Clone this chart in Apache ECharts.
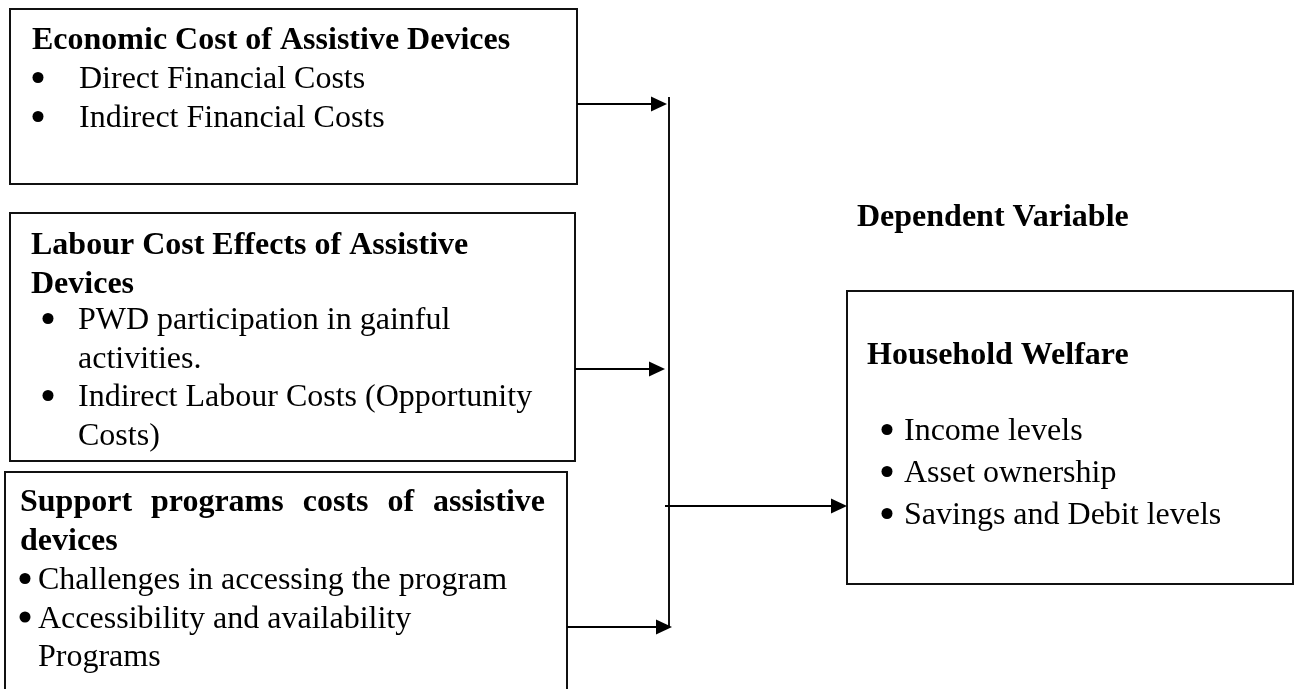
<!DOCTYPE html>
<html>
<head>
<meta charset="utf-8">
<title>Conceptual framework</title>
<script src="https://cdn.jsdelivr.net/npm/echarts@6/dist/echarts.min.js"></script>
<style>
  html, body { margin: 0; padding: 0; background: #fff; }
  #chart { width: 1296px; height: 689px; }
</style>
</head>
<body>
<div id="chart"></div>
<script>
// text content of the framework
const economicTitle = ['Economic Cost of Assistive Devices']
const economicItems = [['Direct Financial Costs'], ['Indirect Financial Costs']]
const labourTitle = ['Labour Cost Effects of Assistive', 'Devices']
const labourItems = [['PWD participation in gainful', 'activities.'], ['Indirect Labour Costs (Opportunity', 'Costs)']]
const supportTitle = ['Support programs costs of assistive', 'devices']
const supportItems = [['Challenges in accessing the program'], ['Accessibility and availability', 'Programs']]
const welfareTitle = ['Household Welfare']
const welfareItems = [['Income levels'], ['Asset ownership'], ['Savings and Debit levels']]
const dependentLabel = 'Dependent Variable'

// layout, in pixel units of a hidden 1296 x 689 grid
const W = 1296
const H = 689
const FONT = "'Liberation Serif', 'Times New Roman', serif"
const FS = 32

const boxes = [
  { title: economicTitle, items: economicItems, rect: [10, 9, 577, 184], titleX: 32, titleY: 48, bulletX: 38, textX: 79, itemY: 87, gap: 39 },
  { title: labourTitle, items: labourItems, rect: [10, 213, 575, 461], titleX: 31, titleY: 253, bulletX: 48, textX: 78, itemY: 328, gap: 38.5 },
  { title: supportTitle, items: supportItems, rect: [5, 472, 567, 720], titleX: 20, titleY: 510, bulletX: 25, textX: 38, itemY: 588, gap: 38.5, justifyTo: 545 },
  { title: welfareTitle, items: welfareItems, rect: [847, 291, 1293, 584], titleX: 867, titleY: 363, bulletX: 887, textX: 904, itemY: 439, gap: 42 },
]
const labelPos = [857, 225]
// arrows: [x from, y, x to]
const arrows = [[577, 104, 667], [575, 369, 665], [567, 627, 672], [665, 506, 847]]
// vertical collector line: [x, y top, y bottom]
const trunk = [[669, 97, 627]]

// flatten the boxes into text lines
const textItems = []
boxes.forEach(b => {
  b.title.forEach((line, i) => {
    textItems.push({ x: b.titleX, y: b.titleY + i * b.gap, text: line, bold: true, justify: i === 0 ? b.justifyTo : null })
  })
  let row = 0
  b.items.forEach(item => {
    item.forEach((line, j) => {
      const y = b.itemY + row * b.gap
      if (j === 0) textItems.push({ x: b.bulletX, y: y, bullet: true })
      textItems.push({ x: b.textX, y: y, text: line })
      row++
    })
  })
})
textItems.push({ x: labelPos[0], y: labelPos[1], text: dependentLabel, bold: true })

const measureCtx = document.createElement('canvas').getContext('2d')
function textWidth(str, bold) {
  measureCtx.font = (bold ? 'bold ' : '') + FS + 'px ' + FONT
  return measureCtx.measureText(str).width
}

function textEl(x, y, str, bold) {
  return {
    type: 'text',
    x: x,
    y: y - 0.22 * FS, // baseline -> middle
    style: {
      text: str,
      fontFamily: FONT,
      fontSize: FS,
      fontWeight: bold ? 'bold' : 'normal',
      fill: '#000',
      align: 'left',
      verticalAlign: 'middle',
      textAlign: 'left',
      textVerticalAlign: 'middle',
    },
  }
}

function renderText(params, api) {
  const t = textItems[params.dataIndex]
  const p = api.coord([api.value(0), api.value(1)])
  if (t.bullet) {
    return { type: 'circle', shape: { cx: p[0], cy: p[1] - 9.5, r: 5.5 }, style: { fill: '#000' } }
  }
  if (!t.justify) return textEl(p[0], p[1], t.text, t.bold)
  // justified line: spread the words to the right edge
  const words = t.text.split(' ')
  const widths = words.map(w => textWidth(w, t.bold))
  const right = api.coord([t.justify, 0])[0]
  const space = (right - p[0] - widths.reduce((a, b) => a + b, 0)) / (words.length - 1)
  let cx = p[0]
  const children = words.map((w, i) => {
    const el = textEl(cx, p[1], w, t.bold)
    cx += widths[i] + space
    return el
  })
  return { type: 'group', children: children }
}

function renderBox(params, api) {
  const a = api.coord([api.value(0), api.value(1)])
  const b = api.coord([api.value(2), api.value(3)])
  return {
    type: 'rect',
    shape: { x: a[0], y: a[1], width: b[0] - a[0], height: b[1] - a[1] },
    style: { fill: 'none', stroke: '#111', lineWidth: 2 },
  }
}

function renderArrow(params, api) {
  const p0 = api.coord([api.value(0), api.value(1)])
  const p1 = api.coord([api.value(2), api.value(1)])
  return {
    type: 'group',
    children: [
      { type: 'line', shape: { x1: p0[0], y1: p0[1], x2: p1[0] - 12, y2: p1[1] }, style: { stroke: '#000', lineWidth: 2.2 } },
      {
        type: 'polygon',
        shape: { points: [[p1[0], p1[1]], [p1[0] - 16, p1[1] - 7.5], [p1[0] - 16, p1[1] + 7.5]] },
        style: { fill: '#000' },
      },
    ],
  }
}

function renderTrunk(params, api) {
  const a = api.coord([api.value(0), api.value(1)])
  const b = api.coord([api.value(0), api.value(2)])
  return {
    type: 'line',
    shape: { x1: a[0], y1: a[1], x2: b[0], y2: b[1] },
    style: { stroke: '#111', lineWidth: 2 },
  }
}

const chart = echarts.init(document.getElementById('chart'))
chart.setOption({
  backgroundColor: '#fff',
  animation: false,
  grid: { left: 0, right: 0, top: 0, bottom: 0 },
  xAxis: { type: 'value', min: 0, max: W, show: false },
  yAxis: { type: 'value', min: 0, max: H, inverse: true, show: false },
  series: [
    { type: 'custom', name: 'boxes', clip: false, renderItem: renderBox, data: boxes.map(b => b.rect) },
    { type: 'custom', name: 'trunk', clip: false, renderItem: renderTrunk, data: trunk },
    { type: 'custom', name: 'arrows', clip: false, renderItem: renderArrow, data: arrows },
    { type: 'custom', name: 'text', clip: false, renderItem: renderText, data: textItems.map(t => [t.x, t.y]) },
  ],
})
</script>
</body>
</html>
